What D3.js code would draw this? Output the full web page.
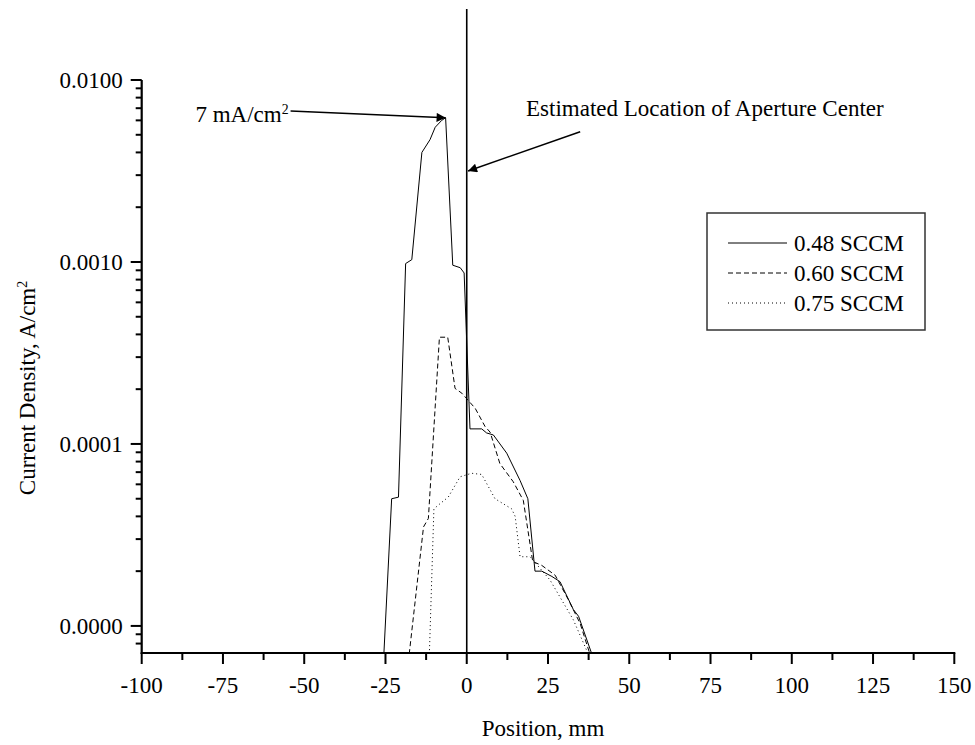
<!DOCTYPE html>
<html lang="en">
<head>
<meta charset="UTF-8">
<title>Current Density vs Position</title>
<script src="https://cdn.jsdelivr.net/npm/d3@7/dist/d3.min.js"></script>
<style>
    body { margin: 0; background: #fff; }
    svg text { font-family: "Liberation Serif", "Times New Roman", serif; fill: #000; }
</style>
</head>
<body>
<svg id="chart" width="975" height="745"></svg>
<script>
// position (mm) and current density (A/cm^2)
const pos048 = [-25.5, -23.1, -21.0, -18.8, -16.9, -13.8, -11.3, -9.7, -7.7, -6.5, -4.3, -2.0, -0.8, 1.0, 4.6, 6.1, 8.2, 12.3, 16.4, 18.8, 21.0, 23.1, 26.2, 28.7, 32.8, 34.4, 38.5];
const j048   = [7e-6, 5.0e-5, 5.1e-5, 9.8e-4, 1.03e-3, 4.0e-3, 4.7e-3, 5.5e-3, 6.0e-3, 6.2e-3, 9.6e-4, 9.3e-4, 8.7e-4, 1.21e-4, 1.21e-4, 1.15e-4, 1.12e-4, 8.9e-5, 6.3e-5, 5.0e-5, 2.0e-5, 2.0e-5, 1.87e-5, 1.75e-5, 1.23e-5, 1.13e-5, 7e-6];

const pos060 = [-17.7, -13.3, -11.8, -8.4, -5.85, -3.6, -1.5, 2.6, 5.6, 7.2, 10.2, 14.3, 17.4, 20.3, 23.1, 27.2, 31.3, 34.9, 37.9];
const j060   = [7e-6, 3.5e-5, 3.9e-5, 3.86e-4, 3.86e-4, 2.02e-4, 1.9e-4, 1.57e-4, 1.25e-4, 1.16e-4, 7.8e-5, 6.2e-5, 4.9e-5, 2.26e-5, 2.15e-5, 1.9e-5, 1.39e-5, 1.03e-5, 7e-6];

const pos075 = [-11.5, -10.1, -8.2, -5.7, -2.05, 1.5, 4.6, 8.7, 13.8, 14.9, 16.4, 19.5, 25.6, 32.8, 37.4];
const j075   = [7e-6, 4.4e-5, 4.7e-5, 5.1e-5, 6.6e-5, 6.9e-5, 6.8e-5, 5.0e-5, 4.4e-5, 4.0e-5, 2.4e-5, 2.4e-5, 1.79e-5, 1.08e-5, 7e-6];

const seriesNames = ["0.48 SCCM", "0.60 SCCM", "0.75 SCCM"];
const xTicks = [-100, -75, -50, -25, 0, 25, 50, 75, 100, 125, 150];
const yTicks = [0.00001, 0.0001, 0.001, 0.01];

const svg = d3.select("#chart");
const plotLeft = 141.7, plotRight = 954.3, plotTop = 80, plotBottom = 653;
const fs = 23;

const x = d3.scaleLinear().domain([-100, 150]).range([plotLeft, plotRight]);
const y = d3.scaleLog().domain([7.1e-6, 0.01]).range([plotBottom, plotTop]);

const defs = svg.append("defs");
defs.append("clipPath").attr("id", "plotclip")
    .append("rect").attr("x", plotLeft).attr("y", plotTop - 2)
    .attr("width", plotRight - plotLeft).attr("height", plotBottom - plotTop + 2);

defs.append("marker")
    .attr("id", "arrow").attr("viewBox", "0 0 10 10")
    .attr("refX", 10).attr("refY", 5)
    .attr("markerWidth", 16).attr("markerHeight", 9)
    .attr("markerUnits", "userSpaceOnUse")
    .attr("orient", "auto")
    .append("path").attr("d", "M0,0L10,5L0,10Z").attr("fill", "#000");

// data lines
const series = [
    {name: seriesNames[0], xs: pos048, ys: j048, dash: null},
    {name: seriesNames[1], xs: pos060, ys: j060, dash: "5,3"},
    {name: seriesNames[2], xs: pos075, ys: j075, dash: "1,3"}
];
const line = d3.line().x(d => x(d[0])).y(d => y(d[1]));
const plot = svg.append("g").attr("clip-path", "url(#plotclip)");
series.forEach(s => {
    plot.append("path")
        .datum(s.xs.map((v, i) => [v, s.ys[i]]))
        .attr("d", line)
        .attr("fill", "none")
        .attr("stroke", "#000")
        .attr("stroke-width", 1)
        .attr("stroke-dasharray", s.dash);
});

// aperture center line
svg.append("line")
    .attr("x1", x(0)).attr("x2", x(0))
    .attr("y1", 9).attr("y2", plotBottom)
    .attr("stroke", "#000").attr("stroke-width", 1.6);

// x axis
const xMinor = d3.range(-87.5, 150, 25);
const xAxis = svg.append("g").attr("transform", `translate(0,${plotBottom})`);
xAxis.append("line").attr("x1", plotLeft - 1).attr("x2", plotRight + 1).attr("stroke", "#000").attr("stroke-width", 2.2);
xAxis.selectAll(".maj").data(xTicks).join("line").attr("class", "maj")
    .attr("x1", d => x(d)).attr("x2", d => x(d)).attr("y1", 0).attr("y2", 11)
    .attr("stroke", "#000").attr("stroke-width", 2);
xAxis.selectAll(".min").data(xMinor).join("line").attr("class", "min")
    .attr("x1", d => x(d)).attr("x2", d => x(d)).attr("y1", 0).attr("y2", 7)
    .attr("stroke", "#000").attr("stroke-width", 2);
xAxis.selectAll("text").data(xTicks).join("text")
    .attr("x", d => x(d)).attr("y", 40)
    .attr("text-anchor", "middle").attr("font-size", fs)
    .text(d => d);

// y axis
const yMinor = [];
[0.000001, 0.00001, 0.0001, 0.001].forEach(dec => {
    for (let k = 2; k <= 9; k++) {
        const v = dec * k;
        if (v >= y.domain()[0] && v <= y.domain()[1]) yMinor.push(v);
    }
});
const yAxis = svg.append("g").attr("transform", `translate(${plotLeft},0)`);
yAxis.append("line").attr("y1", plotTop).attr("y2", plotBottom + 1).attr("stroke", "#000").attr("stroke-width", 2.2);
yAxis.selectAll(".maj").data(yTicks).join("line").attr("class", "maj")
    .attr("y1", d => y(d)).attr("y2", d => y(d)).attr("x1", 0).attr("x2", -11)
    .attr("stroke", "#000").attr("stroke-width", 2);
yAxis.selectAll(".min").data(yMinor).join("line").attr("class", "min")
    .attr("y1", d => y(d)).attr("y2", d => y(d)).attr("x1", 0).attr("x2", -6)
    .attr("stroke", "#000").attr("stroke-width", 2);
yAxis.selectAll("text").data(yTicks).join("text")
    .attr("x", -19).attr("y", d => y(d)).attr("dy", "0.34em")
    .attr("text-anchor", "end").attr("font-size", fs)
    .text(d => d3.format(".4f")(d));

// axis titles
svg.append("text")
    .attr("x", 543).attr("y", 736)
    .attr("text-anchor", "middle").attr("font-size", fs)
    .text("Position, mm");

const yt = svg.append("text")
    .attr("transform", "translate(35,388) rotate(-90)")
    .attr("text-anchor", "middle").attr("font-size", fs);
yt.append("tspan").text("Current Density, A/cm");
yt.append("tspan").attr("dy", "-0.6em").attr("font-size", fs * 0.6).text("2");

// annotations
const peakIdx = j048.indexOf(d3.max(j048));
svg.append("line")
    .attr("x1", x(-54.2)).attr("y1", y(6.76e-3))
    .attr("x2", x(pos048[peakIdx])).attr("y2", y(j048[peakIdx]))
    .attr("stroke", "#000").attr("stroke-width", 1.5)
    .attr("marker-end", "url(#arrow)");
const ann1 = svg.append("text")
    .attr("x", x(-54.2) - 2).attr("y", y(6.76e-3) + 11)
    .attr("text-anchor", "end").attr("font-size", fs);
ann1.append("tspan").text("7 mA/cm");
ann1.append("tspan").attr("dy", "-0.6em").attr("font-size", fs * 0.6).text("2");

svg.append("line")
    .attr("x1", x(34.9)).attr("y1", y(5.2e-3))
    .attr("x2", x(0.4)).attr("y2", y(3.16e-3))
    .attr("stroke", "#000").attr("stroke-width", 1.5)
    .attr("marker-end", "url(#arrow)");
svg.append("text")
    .attr("x", 526).attr("y", 116)
    .attr("font-size", fs)
    .text("Estimated Location of Aperture Center");

// legend
const lg = svg.append("g").attr("transform", "translate(707,213)");
lg.append("rect").attr("width", 218).attr("height", 117)
    .attr("fill", "#fff").attr("stroke", "#333").attr("stroke-width", 1.5);
const rows = lg.selectAll(".row").data(series).join("g").attr("class", "row")
    .attr("transform", (d, i) => `translate(0,${30 + i * 30})`);
rows.append("line")
    .attr("x1", 21).attr("x2", 80)
    .attr("stroke", "#000").attr("stroke-width", 1)
    .attr("stroke-dasharray", d => d.dash);
rows.append("text")
    .attr("x", 87).attr("dy", "0.34em").attr("font-size", fs)
    .text(d => d.name);
</script>
</body>
</html>
